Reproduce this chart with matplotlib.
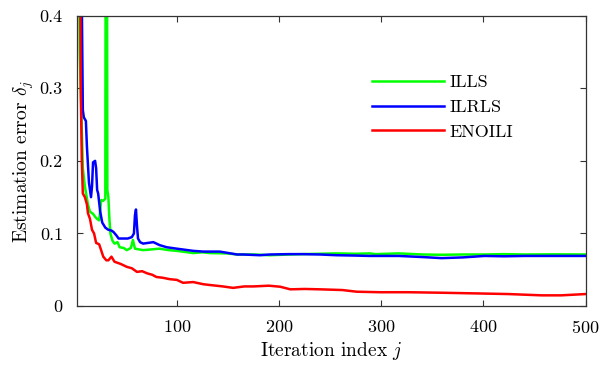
"""Estimation error vs iteration index for ILLS, ILRLS and ENOILI."""

import matplotlib
matplotlib.use("Agg")
import matplotlib.pyplot as plt
from matplotlib.ticker import FuncFormatter

# matplotlib ships cmr10, which is close to the LaTeX look of the original
plt.rcParams['font.family'] = ['cmr10', 'DejaVu Serif']
plt.rcParams['mathtext.fontset'] = 'cm'
plt.rcParams['axes.formatter.use_mathtext'] = True

# ILLS (green)
ills_x = [2, 5, 8, 10, 13, 15, 18, 20, 22, 24, 26, 28, 30, 31, 32, 33, 34, 35, 37, 39,
          42, 44, 48, 51, 55, 57, 59, 63, 67, 75, 83, 92, 100, 116, 125, 132, 149, 159,
          175, 191, 210, 223, 240, 256, 275, 289, 294, 317, 340, 359, 380, 401, 420,
          440, 470, 500]
ills_y = [0.9, 0.35, 0.19, 0.165, 0.14, 0.13, 0.127, 0.123, 0.12, 0.118, 0.146, 0.145,
          0.148, 1.2, 0.16, 0.15, 0.12, 0.10, 0.09, 0.086, 0.088, 0.081, 0.08, 0.077,
          0.08, 0.091, 0.079, 0.078, 0.077, 0.078, 0.079, 0.077, 0.076, 0.073, 0.074,
          0.073, 0.0725, 0.071, 0.071, 0.070, 0.071, 0.0715, 0.072, 0.0725, 0.072,
          0.0725, 0.0715, 0.0725, 0.071, 0.0706, 0.071, 0.071, 0.0715, 0.071, 0.0712,
          0.071]

# ILRLS (blue)
ilrls_x = [2, 5, 7, 8, 9, 11, 12, 14, 16, 17, 18, 20, 21, 22, 23, 25, 27, 30, 33, 36,
           38, 41, 43, 47, 52, 56, 58, 59, 60, 61, 62, 64, 67, 72, 77, 83, 90, 100, 116,
           126, 142, 159, 165, 181, 191, 210, 223, 240, 256, 275, 289, 300, 317, 340,
           359, 380, 401, 420, 440, 470, 500]
ilrls_y = [1.0, 0.6, 0.42, 0.27, 0.26, 0.255, 0.22, 0.17, 0.15, 0.165, 0.198, 0.2, 0.19,
           0.16, 0.155, 0.13, 0.115, 0.108, 0.105, 0.104, 0.102, 0.097, 0.093, 0.093,
           0.093, 0.095, 0.1, 0.125, 0.133, 0.11, 0.093, 0.088, 0.086, 0.087, 0.088,
           0.084, 0.081, 0.079, 0.076, 0.075, 0.075, 0.071, 0.071, 0.070, 0.071, 0.0715,
           0.0715, 0.071, 0.070, 0.0695, 0.069, 0.069, 0.069, 0.0675, 0.066, 0.067,
           0.069, 0.0685, 0.069, 0.069, 0.069]

# ENOILI (red)
enoili_x = [2, 5, 6, 7, 8, 10, 12, 13, 15, 17, 19, 21, 24, 28, 31, 33, 36, 39, 45, 51,
            56, 61, 66, 71, 76, 80, 86, 93, 100, 106, 116, 126, 132, 145, 155, 166, 175,
            190, 201, 211, 225, 240, 262, 276, 299, 326, 359, 392, 424, 457, 476, 500]
enoili_y = [1.0, 0.6, 0.3, 0.2, 0.155, 0.15, 0.14, 0.128, 0.12, 0.105, 0.1, 0.087,
            0.085, 0.068, 0.063, 0.063, 0.068, 0.061, 0.058, 0.054, 0.052, 0.047, 0.048,
            0.045, 0.043, 0.040, 0.039, 0.037, 0.036, 0.032, 0.033, 0.030, 0.029, 0.027,
            0.025, 0.027, 0.027, 0.028, 0.0266, 0.023, 0.0235, 0.023, 0.022, 0.0197,
            0.019, 0.019, 0.0183, 0.0174, 0.0165, 0.0147, 0.0147, 0.0165]

x_ticks = [100, 200, 300, 400, 500]
y_ticks = [0, 0.1, 0.2, 0.3, 0.4]

fig = plt.figure(figsize=(6.16, 3.65), dpi=100)
ax = fig.add_axes([0.1245, 0.1616, 0.8263, 0.7953])

ax.plot(ills_x, ills_y, color=(0, 1, 0), lw=1.8, label='ILLS')
ax.plot(ilrls_x, ilrls_y, color=(0, 0, 1), lw=1.8, label='ILRLS')
ax.plot(enoili_x, enoili_y, color=(1, 0, 0), lw=1.8, label='ENOILI')

ax.set_xlim(2, 500)
ax.set_ylim(0, 0.4)
ax.set_xticks(x_ticks)
ax.set_yticks(y_ticks)
ax.yaxis.set_major_formatter(FuncFormatter(lambda v, p: '0' if v == 0 else f'{v:.1f}'))
ax.tick_params(direction='in', top=True, right=True, length=4, width=0.8,
               color='0.2', labelsize=13)
ax.tick_params(axis='x', pad=9)
ax.tick_params(axis='y', pad=10)
for s in ax.spines.values():
    s.set_color('0.2')
    s.set_linewidth(0.9)

ax.set_xlabel(r'Iteration index $j$', fontsize=14, labelpad=3)
ax.set_ylabel(r'Estimation error $\delta_j$', fontsize=14, labelpad=3)

ax.legend(loc='center left', bbox_to_anchor=(372 / 616, 1 - 107.3 / 365),
          bbox_transform=fig.transFigure, frameon=False, fontsize=13,
          handlelength=4.0, handletextpad=0.3, labelspacing=0.5,
          borderpad=0, borderaxespad=0)

plt.savefig('out.png', dpi=100)
plt.close()
